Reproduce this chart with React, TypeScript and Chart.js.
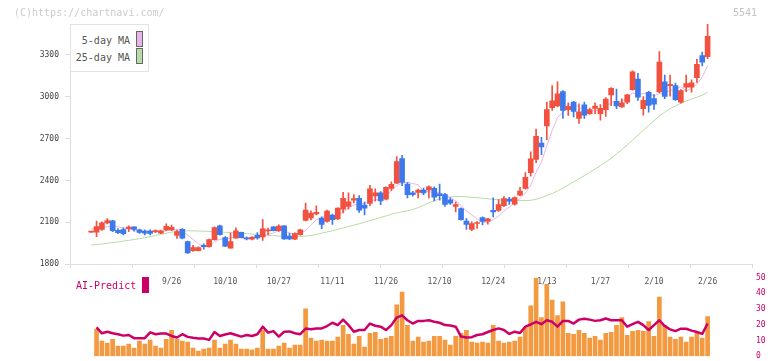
import React, { useEffect, useRef } from 'react';
import { Chart, registerables } from 'chart.js';

Chart.register(...registerables);

// ---------- data ----------
const OPENS = [
  2030, 2030, 2049, 2096, 2111, 2042, 2049, 2054, 2068, 2047,
  2037, 2037, 2033, 2023, 2045, 2045, 2007, 2050, 1962, 1897,
  1897, 1936, 1925, 1976, 2075, 1990, 1915, 1986, 2028, 1988,
  1979, 2007, 1995, 2038, 2068, 2040, 2075, 2002, 1979, 2012,
  2113, 2132, 2160, 2130, 2106, 2153, 2125, 2195, 2214, 2259,
  2273, 2224, 2235, 2289, 2311, 2266, 2344, 2381, 2557, 2374,
  2311, 2315, 2332, 2332, 2344, 2304, 2299, 2261, 2214, 2198,
  2110, 2049, 2092, 2134, 2108, 2186, 2186, 2219, 2266, 2231,
  2294, 2344, 2457, 2551, 2669, 2791, 2922, 2934, 3037, 2908,
  2962, 2845, 2943, 2880, 2917, 2880, 2908, 3014, 2967, 2927,
  2962, 3051, 3127, 2915, 3032, 2988, 3035, 3108, 3080, 3080,
  2962, 3070, 3070, 3138, 3296, 3287,
];
const HIGHS = [
  2036, 2110, 2103, 2127, 2115, 2056, 2061, 2075, 2068, 2051,
  2047, 2047, 2047, 2044, 2089, 2080, 2044, 2056, 1965, 1936,
  1925, 1946, 1980, 2068, 2080, 1998, 2023, 2061, 2030, 1997,
  1998, 2026, 2120, 2059, 2070, 2082, 2077, 2021, 2024, 2052,
  2238, 2183, 2219, 2139, 2188, 2160, 2205, 2316, 2311, 2299,
  2292, 2245, 2365, 2341, 2320, 2355, 2391, 2572, 2581, 2386,
  2322, 2339, 2346, 2362, 2355, 2374, 2308, 2275, 2245, 2205,
  2127, 2103, 2106, 2139, 2129, 2275, 2264, 2285, 2280, 2283,
  2351, 2457, 2605, 2768, 2709, 2962, 3080, 3108, 3044, 2957,
  2967, 2950, 2962, 2920, 2957, 2945, 2995, 3066, 3056, 2986,
  3018, 3186, 3169, 3002, 3040, 3016, 3324, 3155, 3155, 3098,
  3051, 3155, 3122, 3268, 3320, 3522,
];
const LOWS = [
  2028, 1998, 2042, 2089, 2033, 2019, 2010, 2033, 2037, 2021,
  2010, 2010, 2026, 2019, 2040, 2040, 1984, 1981, 1878, 1892,
  1895, 1908, 1922, 1972, 2009, 1925, 1915, 1986, 1990, 1974,
  1974, 1980, 1970, 2012, 2038, 2035, 1978, 1976, 1976, 2009,
  2110, 2118, 2153, 2054, 2101, 2085, 2120, 2167, 2195, 2240,
  2172, 2153, 2219, 2252, 2226, 2261, 2327, 2377, 2363, 2275,
  2287, 2275, 2299, 2275, 2254, 2259, 2214, 2228, 2174, 2115,
  2049, 2040, 2056, 2082, 2087, 2139, 2179, 2212, 2228, 2224,
  2289, 2337, 2431, 2527, 2586, 2692, 2903, 2927, 2845, 2866,
  2856, 2809, 2845, 2873, 2880, 2833, 2859, 2936, 2915, 2924,
  2950, 3047, 2974, 2868, 2890, 2910, 3028, 2986, 3004, 2974,
  2955, 3037, 3033, 3103, 3221, 3273,
];
const CLOSES = [
  2034, 2069, 2096, 2113, 2040, 2026, 2019, 2066, 2049, 2028,
  2023, 2021, 2040, 2040, 2072, 2065, 2033, 1986, 1880, 1920,
  1920, 1925, 1976, 2063, 2012, 1929, 1962, 2040, 1991, 1982,
  1993, 1988, 2054, 2047, 2040, 2073, 1981, 1981, 2019, 2047,
  2188, 2167, 2172, 2085, 2181, 2120, 2202, 2273, 2247, 2271,
  2188, 2202, 2341, 2311, 2254, 2351, 2372, 2536, 2386, 2299,
  2299, 2332, 2311, 2355, 2280, 2292, 2228, 2238, 2228, 2120,
  2085, 2092, 2099, 2106, 2125, 2174, 2228, 2271, 2252, 2278,
  2325, 2422, 2556, 2716, 2641, 2909, 2972, 3021, 2903, 2932,
  2896, 2892, 2868, 2908, 2934, 2917, 2983, 3061, 2934, 2957,
  3014, 3179, 2998, 2974, 2939, 2948, 3249, 3002, 3089, 2979,
  3044, 3094, 3101, 3233, 3249, 3433,
];
const MA5 = [
  2050, 2058, 2064, 2068, 2070, 2069, 2059, 2053, 2040, 2038,
  2037, 2037, 2032, 2030, 2039, 2048, 2050, 2039, 2007, 1977,
  1948, 1926, 1924, 1961, 1979, 1981, 1988, 2001, 1987, 1981,
  1994, 1999, 2002, 2013, 2024, 2040, 2039, 2024, 2019, 2020,
  2043, 2080, 2119, 2132, 2159, 2145, 2152, 2172, 2205, 2223,
  2236, 2236, 2250, 2263, 2259, 2292, 2326, 2365, 2380, 2389,
  2378, 2370, 2325, 2319, 2315, 2314, 2293, 2279, 2253, 2221,
  2180, 2153, 2125, 2100, 2101, 2119, 2146, 2181, 2210, 2241,
  2271, 2310, 2367, 2459, 2532, 2649, 2759, 2852, 2889, 2947,
  2945, 2929, 2898, 2899, 2900, 2904, 2922, 2961, 2966, 2970,
  2990, 3029, 3016, 3024, 3021, 3008, 3022, 3022, 3045, 3053,
  3073, 3042, 3061, 3090, 3144, 3222,
];
const MA25 = [
  1938, 1941, 1945, 1950, 1955, 1960, 1966, 1971, 1977, 1983,
  1990, 1998, 2006, 2014, 2022, 2030, 2035, 2038, 2039, 2039,
  2038, 2037, 2035, 2033, 2031, 2029, 2027, 2025, 2022, 2019,
  2016, 2013, 2010, 2007, 2004, 2002, 2000, 1999, 1998, 1998,
  2001, 2006, 2013, 2022, 2031, 2040, 2050, 2060, 2070, 2080,
  2090, 2101, 2113, 2124, 2135, 2146, 2158, 2168, 2176, 2183,
  2192, 2206, 2222, 2240, 2255, 2267, 2276, 2282, 2285, 2285,
  2283, 2280, 2277, 2273, 2269, 2265, 2262, 2260, 2258, 2257,
  2256, 2256, 2258, 2266, 2278, 2292, 2307, 2326, 2346, 2368,
  2390, 2412, 2435, 2458, 2482, 2506, 2532, 2560, 2590, 2622,
  2655, 2690, 2725, 2760, 2795, 2830, 2862, 2890, 2914, 2935,
  2954, 2970, 2984, 2997, 3012, 3033,
];
const VOLUME = [
  null, 171, 96, 83, 108, 65, 65, 77, 52, 96,
  77, 102, 65, 52, 108, 165, 108, 96, 90, 52,
  33, 46, 52, 102, 52, 77, 102, 77, 46, 46,
  40, 52, 165, 46, 46, 65, 83, 52, 71, 71,
  302, 115, 96, 102, 96, 96, 121, 196, 140, 77,
  127, 58, 146, 152, 108, 115, 127, 327, 408, 196,
  96, 121, 90, 96, 127, 127, 102, 71, 127, 146,
  165, 90, 83, 90, 83, 196, 96, 83, 90, 96,
  121, 183, 321, 496, 246, 458, 358, 258, 346, 146,
  140, 165, 146, 115, 127, 102, 146, 152, 196, 246,
  133, 158, 165, 158, 221, 127, 377, 196, 121, 108,
  121, 90, 121, 146, 115, 252,
];
const AI_PREDICT = [
  null, 18.3, 14.6, 15.6, 14.6, 14.0, 13.1, 13.5, 11.5, 11.5,
  11.5, 15.2, 14.0, 14.4, 14.4, 12.9, 11.9, 14.0, 12.3, 11.7,
  11.3, 11.3, 10.4, 15.4, 12.9, 13.8, 14.6, 13.5, 12.5, 13.5,
  12.9, 14.0, 18.8, 15.0, 16.0, 12.5, 15.6, 15.8, 14.6, 14.0,
  17.6, 17.1, 17.7, 17.7, 19.2, 21.3, 19.8, 23.3, 19.8, 15.6,
  16.7, 16.7, 20.8, 19.4, 18.8, 16.7, 19.8, 24.6, 26.0, 22.9,
  20.8, 22.5, 22.5, 22.9, 21.9, 21.3, 19.8, 19.6, 18.8, 12.5,
  11.9, 12.1, 13.5, 14.0, 15.4, 16.7, 17.7, 16.7, 14.2, 15.6,
  14.8, 18.8, 20.2, 21.9, 20.4, 22.9, 21.9, 18.8, 22.5, 22.5,
  20.8, 23.3, 23.8, 23.3, 22.5, 22.9, 24.0, 22.9, 22.9, 22.9,
  18.8, 20.4, 21.9, 19.8, 16.7, 19.8, 22.9, 19.2, 17.1, 16.0,
  17.5, 17.5, 16.3, 15.4, 14.2, 20.8,
];
const DATE_LABELS = ['9/26', '10/10', '10/27', '11/11', '11/26', '12/10', '12/24', '1/13', '1/27', '2/10', '2/26'];
const DATE_LABEL_INDEX = [15, 25, 35, 45, 55, 65, 75, 85, 95, 105, 115];
const PRICE_TICKS = [1800, 2100, 2400, 2700, 3000, 3300];
const AI_TICKS = [0, 10, 20, 30, 40, 50];

// ---------- styling ----------
const MONO = "'DejaVu Sans Mono', 'Liberation Mono', monospace";
const RED = '#f2513f';
const BLUE = '#3d79ec';
const PINK = '#e8b4ea';
const GREEN = '#b6dba6';
const ORANGE = '#f3993f';
const MAGENTA = '#cc0066';
const AXIS = '#dddddd';
const X_MIN = -3.955;
const X_MAX = 123.28;
const PRICE_MIN = 1800;
const PRICE_MAX = 3522;

const candleColor = (ctx: any) => {
  const i = ctx.dataIndex;
  return CLOSES[i] >= OPENS[i] ? RED : BLUE;
};

export default function App() {
  const topRef = useRef<HTMLCanvasElement>(null);
  const botRef = useRef<HTMLCanvasElement>(null);

  useEffect(() => {
    const idx = OPENS.map((_, i) => i);
    const top = new Chart(topRef.current as HTMLCanvasElement, {
      type: 'bar',
      data: {
        datasets: [
          {
            type: 'line',
            label: '5-day MA',
            data: idx.map((i) => ({ x: i, y: MA5[i] })),
            borderColor: PINK,
            borderWidth: 1,
            pointRadius: 0,
            tension: 0,
            order: 3,
          } as any,
          {
            type: 'line',
            label: '25-day MA',
            data: idx.map((i) => ({ x: i, y: MA25[i] })),
            borderColor: GREEN,
            borderWidth: 1,
            pointRadius: 0,
            tension: 0,
            order: 4,
          } as any,
          {
            type: 'bar',
            label: 'wick',
            data: idx.map((i) => ({ x: i, y: [LOWS[i], HIGHS[i]] })),
            backgroundColor: candleColor,
            barThickness: 1,
            grouped: false,
            order: 2,
          } as any,
          {
            type: 'bar',
            label: 'body',
            data: idx.map((i) => ({ x: i, y: [Math.min(OPENS[i], CLOSES[i]), Math.max(OPENS[i], CLOSES[i])] })),
            backgroundColor: candleColor,
            barThickness: 5,
            minBarLength: 1,
            grouped: false,
            order: 1,
          } as any,
        ],
      },
      options: {
        animation: false,
        responsive: false,
        maintainAspectRatio: false,
        layout: { padding: { top: 24, right: 20, left: 0, bottom: 0 } },
        plugins: { legend: { display: false }, tooltip: { enabled: false } },
        scales: {
          x: {
            type: 'linear',
            min: X_MIN,
            max: X_MAX,
            offset: false,
            grid: { display: true, drawOnChartArea: false, offset: false, tickLength: 4, color: AXIS },
            border: { display: true, color: AXIS },
            ticks: { display: false },
            afterBuildTicks: (s: any) => {
              const n = 11;
              s.ticks = Array.from({ length: n + 1 }, (_, j) => ({ value: X_MIN + (j * (X_MAX - X_MIN)) / n }));
            },
            afterFit: (s: any) => {
              s.height = 7;
            },
          },
          y: {
            type: 'linear',
            min: PRICE_MIN,
            max: PRICE_MAX,
            grid: { display: true, drawOnChartArea: false, tickLength: 5, color: AXIS },
            border: { display: true, color: AXIS },
            ticks: {
              font: { family: MONO, size: 8 },
              color: '#444',
              padding: 6,
              callback: (v: any) => String(v),
            },
            afterBuildTicks: (s: any) => {
              s.ticks = PRICE_TICKS.map((v) => ({ value: v }));
            },
            afterFit: (s: any) => {
              s.width = 70;
            },
          },
        },
      } as any,
    });

    const bot = new Chart(botRef.current as HTMLCanvasElement, {
      type: 'bar',
      data: {
        datasets: [
          {
            type: 'line',
            label: 'AI-Predict',
            data: idx.map((i) => ({ x: i, y: AI_PREDICT[i] })),
            yAxisID: 'yr',
            borderColor: MAGENTA,
            borderWidth: 2.5,
            borderJoinStyle: 'round',
            pointRadius: 0,
            tension: 0,
            order: 1,
          } as any,
          {
            type: 'bar',
            label: 'Volume',
            data: idx.map((i) => ({ x: i, y: VOLUME[i] })),
            yAxisID: 'yv',
            backgroundColor: ORANGE,
            barThickness: 4,
            grouped: false,
            order: 2,
          } as any,
        ],
      },
      options: {
        animation: false,
        responsive: false,
        maintainAspectRatio: false,
        layout: { padding: { top: 12.7, right: 0, left: 70, bottom: 6.5 } },
        plugins: { legend: { display: false }, tooltip: { enabled: false } },
        scales: {
          x: {
            type: 'linear',
            position: 'top',
            min: X_MIN,
            max: X_MAX,
            offset: false,
            grid: { display: false, drawTicks: false, offset: false },
            border: { display: false },
            ticks: {
              autoSkip: false,
              maxRotation: 0,
              minRotation: 0,
              mirror: true,
              padding: -0.5,
              font: { family: MONO, size: 8 },
              color: '#555',
              callback: (v: any) => {
                const k = DATE_LABEL_INDEX.indexOf(Number(v));
                return k >= 0 ? DATE_LABELS[k] : '';
              },
            },
            afterBuildTicks: (s: any) => {
              s.ticks = DATE_LABEL_INDEX.map((v) => ({ value: v }));
            },
            afterFit: (s: any) => {
              s.height = 0;
            },
          },
          yv: { type: 'linear', display: false, min: 0, max: 500 },
          yr: {
            type: 'linear',
            position: 'right',
            min: 0,
            max: 50,
            grid: { display: false, drawTicks: false },
            border: { display: false },
            ticks: { font: { family: MONO, size: 8 }, color: MAGENTA, padding: 4 },
            afterBuildTicks: (s: any) => {
              s.ticks = AI_TICKS.map((v) => ({ value: v }));
            },
            afterFit: (s: any) => {
              s.width = 20;
            },
          },
        },
      } as any,
    });

    return () => {
      top.destroy();
      bot.destroy();
    };
  }, []);

  const txt: React.CSSProperties = {
    position: 'absolute',
    fontFamily: MONO,
    fontSize: 10,
    lineHeight: '12px',
    whiteSpace: 'nowrap',
  };

  return (
    <div style={{ position: 'fixed', left: 0, top: 0, width: 772, height: 361, background: '#fff', overflow: 'hidden' }}>
      <canvas ref={topRef} width={772} height={275} style={{ position: 'absolute', left: 0, top: 0, width: 772, height: 275 }} />
      <canvas ref={botRef} width={772} height={100} style={{ position: 'absolute', left: 0, top: 265, width: 772, height: 100 }} />
      <div style={{ ...txt, left: 14, top: 7, color: '#cccccc' }}>(C)https://chartnavi.com/</div>
      <div style={{ ...txt, left: 733, top: 7, color: '#c4c4c4' }}>5541</div>
      <div
        style={{
          position: 'absolute',
          left: 70,
          top: 24,
          width: 79,
          height: 48,
          boxSizing: 'border-box',
          border: '1px solid #e3e3e3',
          background: '#fff',
        }}
      />
      <div style={{ ...txt, right: 772 - 130, top: 35, color: '#555', textAlign: 'right' }}>5-day MA</div>
      <div style={{ ...txt, right: 772 - 130, top: 51.5, color: '#555', textAlign: 'right' }}>25-day MA</div>
      <div style={{ position: 'absolute', left: 136, top: 31, width: 7, height: 16, boxSizing: 'border-box', border: '1px solid #666', background: PINK }} />
      <div style={{ position: 'absolute', left: 136, top: 48, width: 7, height: 16, boxSizing: 'border-box', border: '1px solid #666', background: GREEN }} />
      <div style={{ ...txt, left: 76, top: 280, color: MAGENTA }}>AI-Predict</div>
      <div style={{ position: 'absolute', left: 142, top: 277, width: 7, height: 16, background: MAGENTA }} />
    </div>
  );
}
